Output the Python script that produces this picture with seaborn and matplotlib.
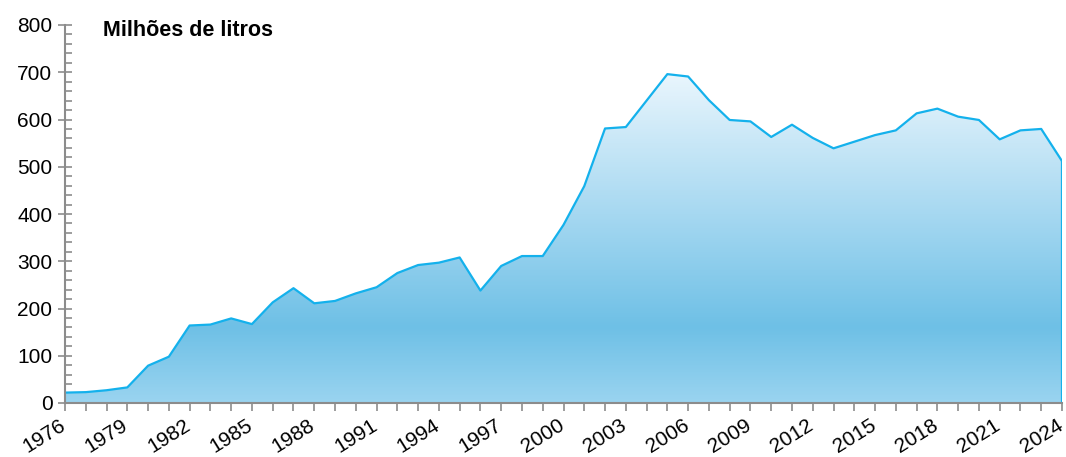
import matplotlib
matplotlib.use('Agg')
import matplotlib.pyplot as plt
import matplotlib.transforms as mtransforms
import numpy as np
import pandas as pd
import seaborn as sns
from matplotlib.colors import LinearSegmentedColormap
from matplotlib.ticker import MultipleLocator

# Data
years = list(range(1976, 2025))
volume = [22, 23, 27, 33, 79, 98, 164, 166, 179, 167,
          213, 243, 211, 216, 232, 245, 275, 292, 297, 308,
          238, 290, 311, 311, 377, 459, 581, 584, 640, 696,
          691, 641, 599, 596, 563, 589, 561, 539, 553, 567,
          577, 613, 623, 606, 599, 558, 577, 580, 512]
tick_years = list(range(1976, 2025, 3))

df = pd.DataFrame({'year': years, 'volume': volume})

sns.set_style('white')
plt.rcParams['font.family'] = ['Liberation Sans', 'DejaVu Sans']
plt.rcParams['text.color'] = 'black'
plt.rcParams['xtick.labelcolor'] = 'black'
plt.rcParams['ytick.labelcolor'] = 'black'

fig = plt.figure(figsize=(10.66, 4.57), dpi=100)
ax = fig.add_axes([65 / 1066, 54 / 457, 997 / 1066, 378 / 457])

# gradient fill under the line, clipped to the area polygon
poly = ax.fill_between(df['year'], df['volume'], 0, color='none', lw=0)
grad = LinearSegmentedColormap.from_list('g', [
    (0.0, '#9ad4f0'),
    (0.2, '#6ec0e6'),
    (0.5, '#a6d8f1'),
    (0.875, '#eaf6fd'),
    (1.0, '#ffffff'),
])
img = ax.imshow(np.linspace(0, 1, 256).reshape(-1, 1), cmap=grad, aspect='auto',
                origin='lower', extent=[1976, 2024, 0, 800], zorder=1)
path = poly.get_paths()[0]
img.set_clip_path(path, transform=ax.transData)

sns.lineplot(data=df, x='year', y='volume', color='#14b1ec', lw=1.6, ax=ax, zorder=3)
ax.plot([2024, 2024], [0, volume[-1]], color='#14b1ec', lw=1.6, zorder=3)

ax.set_xlim(1976, 2024)
ax.set_ylim(0, 800)
ax.set_xlabel('')
ax.set_ylabel('')

for side in ['top', 'right']:
    ax.spines[side].set_visible(False)
for side in ['left', 'bottom']:
    ax.spines[side].set_color('#8c8c8c')
    ax.spines[side].set_linewidth(1.5)
    ax.spines[side].set_zorder(4)

ax.yaxis.set_major_locator(MultipleLocator(100))
ax.yaxis.set_minor_locator(MultipleLocator(20))
ax.set_xticks(years, minor=True)
ax.set_xticks(tick_years)
ax.set_xticklabels([str(y) for y in tick_years], rotation=32, ha='right',
                   rotation_mode='anchor')
ax.tick_params(axis='y', which='major', direction='inout', length=10, width=1.2,
               color='#8c8c8c', labelsize=15, left=True, pad=4)
ax.tick_params(axis='y', which='minor', direction='in', length=5, width=1.2,
               color='#8c8c8c', left=True)
ax.tick_params(axis='x', which='both', direction='out', length=6, width=1.2,
               color='#8c8c8c', bottom=True, labelsize=15, pad=3)

# nudge the rotated year labels a little left so the last one stays inside
shift = mtransforms.ScaledTranslation(-6 / 100, 0, fig.dpi_scale_trans)
for lab in ax.get_xticklabels():
    lab.set_transform(lab.get_transform() + shift)

ax.text(0.038, 1.012, 'Milhões de litros', transform=ax.transAxes,
        fontsize=15.5, fontweight='bold', va='top', ha='left')

fig.savefig('out.png', dpi=100)
